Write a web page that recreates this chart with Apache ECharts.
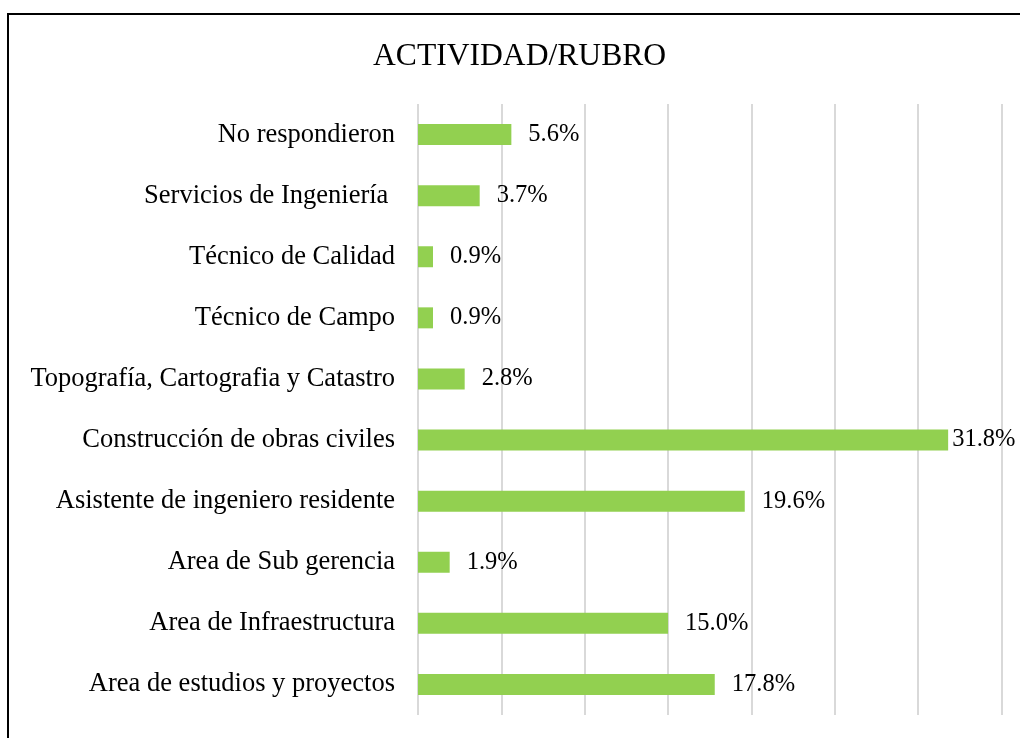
<!DOCTYPE html>
<html>
<head>
<meta charset="utf-8">
<script src="https://cdn.jsdelivr.net/npm/echarts@6/dist/echarts.min.js"></script>
<style>
html,body{margin:0;padding:0;background:#fff;}
#chart{width:1020px;height:738px;}
</style>
</head>
<body>
<div id="chart"></div>
<script>
const titleText = 'ACTIVIDAD/RUBRO';
const categories = [
  'Area de estudios y proyectos',
  'Area de Infraestructura',
  'Area de Sub gerencia',
  'Asistente de ingeniero residente',
  'Construcción de obras civiles',
  'Topografía, Cartografia y Catastro',
  'Técnico de Campo',
  'Técnico de Calidad',
  'Servicios de Ingeniería ',
  'No respondieron'
];
const values = [17.8, 15.0, 1.9, 19.6, 31.8, 2.8, 0.9, 0.9, 3.7, 5.6];

const font = '"Liberation Serif", "Times New Roman", serif';
const chart = echarts.init(document.getElementById('chart'));
chart.setOption({
  animation: false,
  backgroundColor: '#fff',
  title: {
    text: titleText,
    left: 373,
    top: 41,
    padding: 0,
    textStyle: { fontFamily: font, fontWeight: 'normal', fontSize: 31.6, color: '#000' }
  },
  graphic: [{
    type: 'rect',
    shape: { x: 8, y: 14, width: 1100, height: 900 },
    style: { fill: 'none', stroke: '#000', lineWidth: 2 },
    silent: true
  }],
  grid: { left: 418, right: 18.5, top: 104, bottom: 23, containLabel: false },
  xAxis: {
    type: 'value',
    min: 0, max: 35, interval: 5,
    axisLabel: { show: false },
    axisLine: { show: false },
    axisTick: { show: false },
    splitLine: { show: true, lineStyle: { color: '#d9d9d9', width: 2 } }
  },
  yAxis: {
    type: 'category',
    data: categories,
    axisLine: { show: false },
    axisTick: { show: false },
    axisLabel: { fontFamily: font, fontSize: 26.5, color: '#000', margin: 23, padding: [2, 0, 0, 0] }
  },
  series: [{
    type: 'bar',
    data: values.map((v, i) => v > 30 ? { value: v, label: { distance: 4 } } : v),
    barWidth: 21,
    itemStyle: { color: '#92d050' },
    label: {
      show: true,
      position: 'right',
      distance: 17,
      padding: [4, 0, 0, 0],
      fontFamily: font,
      fontSize: 24.5,
      color: '#000',
      formatter: p => p.value.toFixed(1) + '%'
    }
  }]
});
</script>
</body>
</html>
